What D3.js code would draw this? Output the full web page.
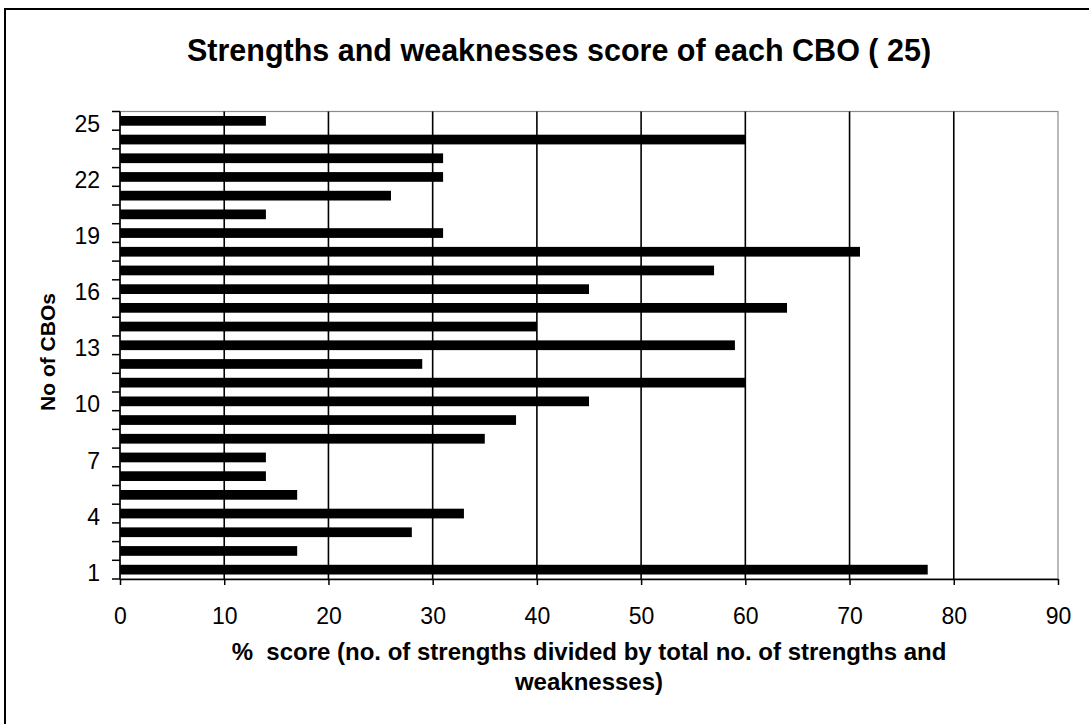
<!DOCTYPE html>
<html>
<head>
<meta charset="utf-8">
<script src="https://cdn.jsdelivr.net/npm/d3@7"></script>
<style>
  html, body { margin: 0; padding: 0; background: #fff; }
  svg { display: block; font-family: Arial, "Liberation Sans", sans-serif; }
  .keep-spaces { white-space: pre; }
</style>
</head>
<body>
<svg id="chart" width="1089" height="724"></svg>
<script>
// CBO numbers (1..25) and their % strength scores
const cbos = d3.range(1, 26);
const scores = [77.5, 17, 28, 33, 17, 14, 14, 35, 38, 45, 60, 29, 59, 40, 64,
                45, 57, 71, 31, 14, 26, 31, 31, 60, 14];
const xTicks = [0, 10, 20, 30, 40, 50, 60, 70, 80, 90];
const yLabelled = [1, 4, 7, 10, 13, 16, 19, 22, 25];

const title = "Strengths and weaknesses score of each CBO ( 25)";
const xTitle = ["%  score (no. of strengths divided by total no. of strengths and", "weaknesses)"];
const yTitle = "No of CBOs";

const FONT = "Arial, 'Liberation Sans', sans-serif";
const svg = d3.select("#chart");
const plot = { left: 120, right: 1058, top: 111.5, bottom: 579 };

// outer frame (runs off the right and bottom edge)
svg.append("rect")
  .attr("x", 5).attr("y", 9).attr("width", 1100).attr("height", 730)
  .attr("fill", "#fff").attr("stroke", "#000").attr("stroke-width", 2);

const x = d3.scaleLinear().domain([0, 90]).range([plot.left, plot.right]);
const y = d3.scaleBand().domain(cbos.map(String).reverse())
  .range([plot.top, plot.bottom]).paddingInner(0.48).paddingOuter(0.24);
const yb = d3.scaleBand().domain(cbos.map(String).reverse())
  .range([plot.top, plot.bottom]);

// plot area border (grey)
svg.append("rect")
  .attr("x", plot.left).attr("y", plot.top)
  .attr("width", plot.right - plot.left).attr("height", plot.bottom - plot.top)
  .attr("fill", "none").attr("stroke", "#8c8c8c").attr("stroke-width", 1.2);

// vertical gridlines
svg.append("g").selectAll("line")
  .data(xTicks.filter(d => d > 0 && d < 90))
  .join("line")
  .attr("x1", d => x(d)).attr("x2", d => x(d))
  .attr("y1", plot.top).attr("y2", plot.bottom)
  .attr("stroke", "#000").attr("stroke-width", 1.6);

// bars
svg.append("g").selectAll("rect")
  .data(cbos)
  .join("rect")
  .attr("x", x(0))
  .attr("y", (d) => y(String(d)))
  .attr("width", (d, i) => x(scores[i]) - x(0))
  .attr("height", y.bandwidth())
  .attr("fill", "#000");

// x axis
const xAxis = svg.append("g")
  .attr("transform", `translate(0,${plot.bottom})`)
  .call(d3.axisBottom(x).tickValues(xTicks).tickSize(6).tickPadding(23).tickSizeOuter(0));
xAxis.select(".domain").attr("stroke", "#000").attr("stroke-width", 1.6);
xAxis.selectAll(".tick line").attr("stroke", "#000").attr("stroke-width", 1.5);
xAxis.selectAll(".tick text")
  .attr("font-size", 23).attr("fill", "#000")
  .attr("font-family", FONT);

// y axis: ticks at category boundaries, labels on every third CBO
const yAxis = svg.append("g").attr("transform", `translate(${plot.left},0)`);
yAxis.append("line")
  .attr("x1", 0).attr("x2", 0).attr("y1", plot.top).attr("y2", plot.bottom)
  .attr("stroke", "#000").attr("stroke-width", 1.6);
const bounds = cbos.map(d => yb(String(d))).concat([plot.bottom]);
yAxis.selectAll("line.tk")
  .data(bounds)
  .join("line").attr("class", "tk")
  .attr("x1", -8).attr("x2", 0)
  .attr("y1", d => d).attr("y2", d => d)
  .attr("stroke", "#000").attr("stroke-width", 1.5);
yAxis.selectAll("text")
  .data(yLabelled)
  .join("text")
  .attr("x", -20)
  .attr("y", d => yb(String(d)) + yb.bandwidth() / 2 + 3)
  .attr("dy", "0.35em")
  .attr("text-anchor", "end")
  .attr("font-size", 23)
  .attr("fill", "#000")
  .text(d => d);

// titles
svg.append("text")
  .attr("x", 559).attr("y", 61)
  .attr("text-anchor", "middle")
  .attr("font-size", 30.5).attr("font-weight", "bold")
  .text(title);

svg.append("g").selectAll("text")
  .data(xTitle)
  .join("text")
  .attr("class", "keep-spaces")
  .attr("x", (plot.left + plot.right) / 2)
  .attr("y", (d, i) => 660 + i * 30)
  .attr("text-anchor", "middle")
  .attr("font-size", 24).attr("font-weight", "bold")
  .text(d => d);

svg.append("text")
  .attr("transform", `translate(55,352) rotate(-90)`)
  .attr("text-anchor", "middle")
  .attr("font-size", 21).attr("font-weight", "bold")
  .text(yTitle);
</script>
</body>
</html>
